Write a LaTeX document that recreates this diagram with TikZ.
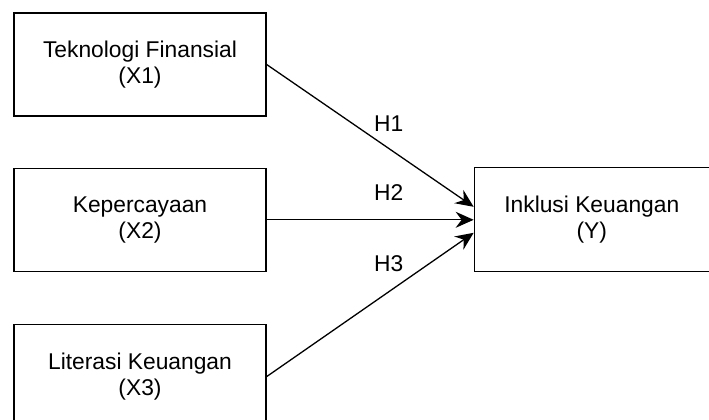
\documentclass[tikz,border=0pt]{standalone}
\usepackage{fontspec}
\setmainfont{Liberation Sans}
\usepackage{tikz}
\usetikzlibrary{arrows.meta,positioning}

\begin{document}
\begin{tikzpicture}[x=1pt, y=-1pt,
    box/.style={rectangle, draw, line width=1.3pt, align=center, minimum width=252pt, minimum height=103pt, font=\fontsize{22.8}{26}\selectfont},
    arrow/.style={-{Stealth[length=18pt, width=16pt, inset=6pt]}, line width=1.3pt},
    hyp/.style={font=\fontsize{22.8}{26}\selectfont, inner sep=0pt}]

    \useasboundingbox (0,0) rectangle (709,420);

    % Independent variables
    \node[box] (tek) at (140,64.5) {Teknologi Finansial\\(X1)};
    \node[box, below=51pt of tek] (kep) {Kepercayaan\\(X2)};
    \node[box, below=52pt of kep, minimum height=104pt] (lit) {Literasi Keuangan\\(X3)};

    % Dependent variable
    \node[box, right=207pt of kep, minimum width=235pt, minimum height=104pt] (inkl) {Inklusi Keuangan\\(Y)};

    % Hypotheses
    \draw[arrow] (tek.east) -- node[hyp, pos=0.59, yshift=25pt] {H1} ([yshift=13pt]inkl.west);
    \draw[arrow] (kep.east) -- node[hyp, pos=0.59, yshift=27pt] {H2} (inkl.west);
    \draw[arrow] (lit.east) -- node[hyp, pos=0.59, yshift=28pt] {H3} ([yshift=-13pt]inkl.west);

\end{tikzpicture}
\end{document}
